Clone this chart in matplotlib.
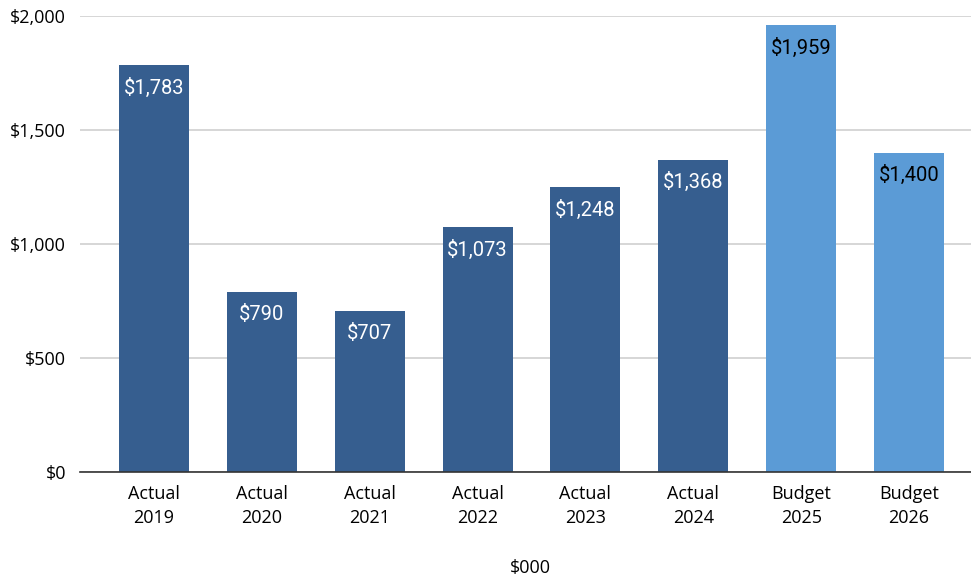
import matplotlib.pyplot as plt

# данные
categories = ["Actual\n2019", "Actual\n2020", "Actual\n2021", "Actual\n2022",
              "Actual\n2023", "Actual\n2024", "Budget\n2025", "Budget\n2026"]
values = [1783, 790, 707, 1073, 1248, 1368, 1959, 1400]
kinds = ["actual"] * 6 + ["budget"] * 2

dark = "#365e8f"
light = "#5b9bd6"
colors = [dark if k == "actual" else light for k in kinds]
text_colors = ["white" if k == "actual" else "black" for k in kinds]

fig = plt.figure(figsize=(9.71, 5.79), dpi=100)
ax = fig.add_axes([0.0824, 0.1848, 0.9176, 0.7876])

x = list(range(len(categories)))
bars = ax.bar(x, values, width=0.65, color=colors, zorder=3)

for b, v, tc in zip(bars, values, text_colors):
    ax.annotate("${:,}".format(v), (b.get_x() + b.get_width() / 2, v),
                xytext=(0, -16), textcoords="offset points",
                ha="center", va="center", color=tc, fontsize=14.5,
                family="Roboto", zorder=4)

ax.set_xlim(-0.686, 7.575)
ax.set_ylim(0, 2000)
ax.set_yticks([0, 500, 1000, 1500, 2000])
ax.set_yticklabels(["${:,}".format(t) for t in [0, 500, 1000, 1500, 2000]],
                   fontsize=13, family="Open Sans")
ax.set_xticks(x)
ax.set_xticklabels(categories, fontsize=13, family="Open Sans", linespacing=1.45)
ax.tick_params(length=0)
ax.tick_params(axis="x", pad=9)
ax.tick_params(axis="y", pad=10)

ax.grid(axis="y", color="#d0d0d0", linewidth=1.2, zorder=0)
for s in ["top", "right", "left"]:
    ax.spines[s].set_visible(False)
ax.spines["bottom"].set_color("#333333")
ax.spines["bottom"].set_linewidth(1.2)
ax.spines["bottom"].set_zorder(5)

fig.text(0.546, 0.003, "$000", ha="center", va="bottom",
         fontsize=13, family="Open Sans")

fig.savefig("out.png", dpi=100)
